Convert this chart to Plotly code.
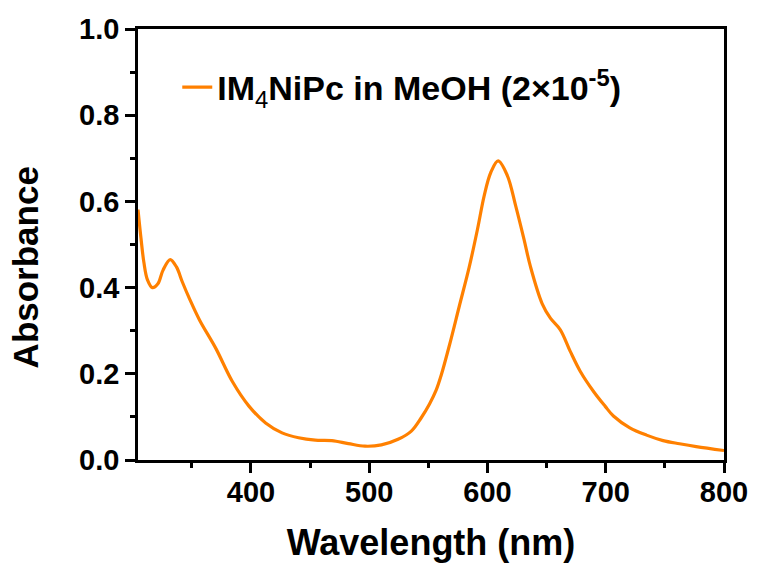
import plotly.graph_objects as go

wavelength = [304.5, 307.0, 309.5, 312.5, 316.6, 321.3, 325.6, 331.7, 337.0, 342.0,
              347.9, 356.5, 370.3, 384.3, 398.3, 412.4, 426.3, 440.3, 454.4, 468.4,
              482.4, 496.4, 510.3, 524.4, 535.6, 544.0, 551.0, 556.6, 560.8, 568.0,
              576.0, 584.6, 591.6, 597.2, 602.8, 609.0, 616.8, 623.8, 630.8, 636.4,
              646.2, 653.2, 661.6, 670.0, 678.4, 689.7, 699.4, 706.5, 720.4, 734.5,
              748.5, 762.4, 776.5, 800.0]
absorbance = [0.581, 0.515, 0.458, 0.418, 0.400, 0.409, 0.440, 0.465, 0.448, 0.413,
              0.375, 0.325, 0.259, 0.182, 0.125, 0.086, 0.063, 0.0515, 0.046, 0.045,
              0.038, 0.032, 0.035, 0.048, 0.067, 0.098, 0.130, 0.162, 0.196, 0.268,
              0.355, 0.448, 0.536, 0.613, 0.667, 0.694, 0.660, 0.590, 0.513, 0.448,
              0.363, 0.329, 0.302, 0.252, 0.206, 0.159, 0.125, 0.102, 0.0746, 0.0577,
              0.045, 0.0376, 0.031, 0.022]

x_ticks = [400, 500, 600, 700, 800]
y_ticks = [0.0, 0.2, 0.4, 0.6, 0.8, 1.0]
series_name = "IM<sub><span style='font-weight:normal'>4</span></sub>NiPc in MeOH (2×10<sup>-5</sup>)"
x_title = "Wavelength (nm)"
y_title = "Absorbance"

FONT = "Liberation Sans, Arial, sans-serif"

fig = go.Figure()
fig.add_trace(go.Scatter(
    x=wavelength, y=absorbance, mode="lines", name=series_name,
    line=dict(color="#FF8000", width=3.2, shape="spline", smoothing=1.0),
))

axis_common = dict(
    showline=True, linecolor="black", linewidth=2.5, mirror=True,
    ticks="outside", ticklen=10, tickwidth=2.5, tickcolor="black",
    showgrid=False, zeroline=False,
    tickfont=dict(family=FONT, size=29, color="black", weight="bold"),
)

fig.update_xaxes(
    range=[304.5, 800], tickvals=x_ticks, ticktext=[str(v) for v in x_ticks],
    minor=dict(ticks="outside", ticklen=5, tickwidth=2.5, tickcolor="black", dtick=50, tick0=0),
    ticklabelstandoff=-6,
    title=dict(text=x_title, font=dict(family=FONT, size=36, color="black", weight="bold"),
               standoff=24),
    **axis_common,
)
fig.update_yaxes(
    range=[0, 1.0], tickvals=y_ticks, ticktext=[f"{v:.1f}" for v in y_ticks],
    minor=dict(ticks="outside", ticklen=5, tickwidth=2.5, tickcolor="black", dtick=0.1, tick0=0),
    **axis_common,
)

fig.add_annotation(
    text=y_title, textangle=-90, xref="paper", yref="paper",
    x=-0.192, y=0.448, xanchor="center", yanchor="middle", showarrow=False,
    font=dict(family=FONT, size=35, color="black", weight="bold"),
)

fig.update_layout(
    width=760, height=569,
    margin=dict(l=138, r=32, t=29, b=107),
    paper_bgcolor="white", plot_bgcolor="white",
    showlegend=True,
    legend=dict(x=0.067, y=0.864, xanchor="left", yanchor="middle",
                bgcolor="rgba(0,0,0,0)",
                font=dict(family=FONT, size=34, color="black", weight="bold")),
)

fig.write_html("out.html")
